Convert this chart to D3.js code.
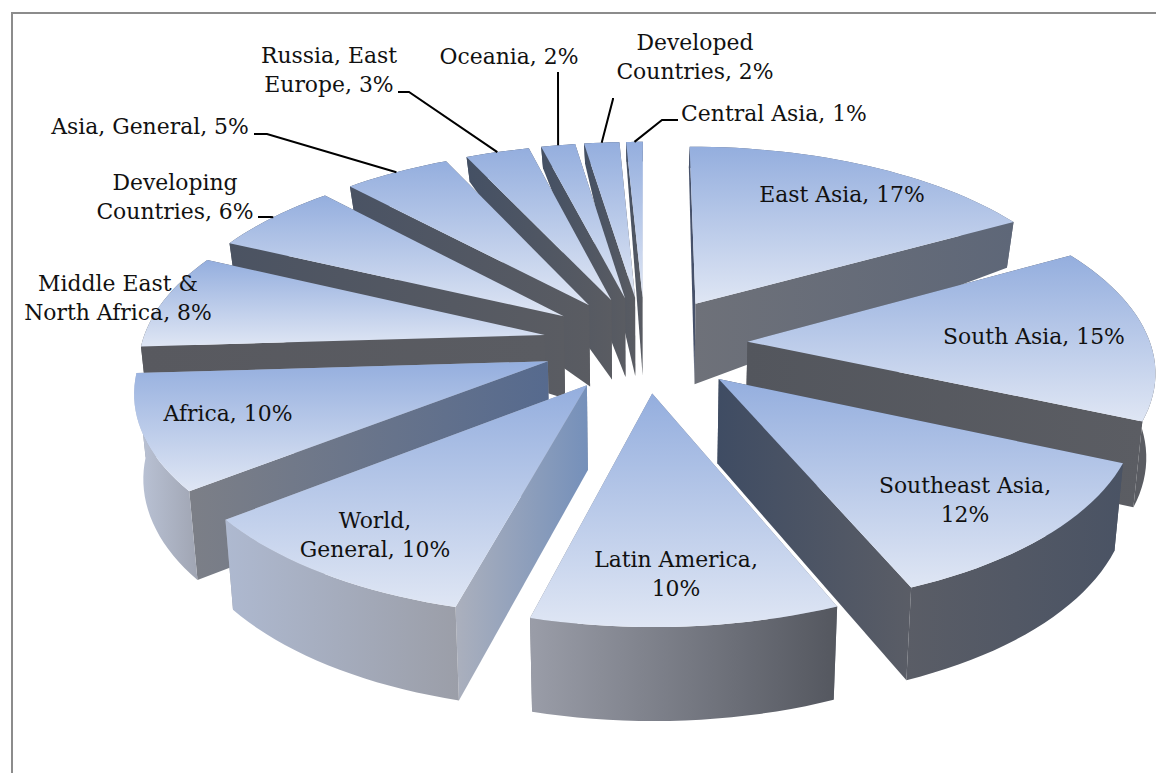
<!DOCTYPE html>
<html>
<head>
<meta charset="utf-8">
<script src="https://cdnjs.cloudflare.com/ajax/libs/d3/7.8.5/d3.min.js"></script>
<style>
  html, body { margin: 0; padding: 0; background: #fff; }
  svg { display: block; }
  text { font-family: "DejaVu Serif", serif; font-size: 21.9px; fill: #111; text-anchor: middle; }
</style>
</head>
<body>
<svg id="chart" width="1156" height="773"></svg>
<script>
const categories = ["East Asia", "South Asia", "Southeast Asia", "Latin America", "World, General", "Africa",
  "Middle East & North Africa", "Developing Countries", "Asia, General", "Russia, East Europe", "Oceania",
  "Developed Countries", "Central Asia"];
// the printed labels are rounded
const shares = [17, 14.86, 12.22, 10.5, 10.35, 9.72, 8.06, 6.1, 5, 3, 1.6, 1.65, 0.78];

// label text, broken the way the original breaks it
const labelLines = [
  ["East Asia, 17%"], ["South Asia, 15%"], ["Southeast Asia,", "12%"], ["Latin America,", "10%"],
  ["World,", "General, 10%"], ["Africa, 10%"], ["Middle East &", "North Africa, 8%"],
  ["Developing", "Countries, 6%"], ["Asia, General, 5%"], ["Russia, East", "Europe, 3%"],
  ["Oceania, 2%"], ["Developed", "Countries, 2%"], ["Central Asia, 1%"]
];

const width = 1156, height = 773;
const svg = d3.select("#chart");
const defs = svg.append("defs");

// perspective of the pie plane, fitted by eye
const cx = 645, cy = 344, scaleX = 403, scaleY = 188, persp = 0.133, explode = 0.255;
const shrinkBottom = 0.982;
const depthScale = d3.scaleLinear()
  .domain([-1.25, -0.4, 0.2, 0.7, 1.25])
  .range([94, 86, 82, 46, 20]);

const project = (x, y) => {
  const w = 1 + persp * y;
  return [cx + scaleX * x / w, cy - scaleY * y / w];
};
const projectBottom = (x, y) => {
  const p = project(x, y);
  return [cx + (p[0] - cx) * shrinkBottom, p[1] + depthScale(y)];
};

const arcs = d3.pie().sort(null).value((d) => d)(shares);

const slices = arcs.map((a, i) => {
  const mid = (a.startAngle + a.endAngle) / 2;
  const ox = explode * Math.sin(mid), oy = explode * Math.cos(mid);
  const rimAt = (t) => [ox + Math.sin(t), oy + Math.cos(t)];
  const n = Math.max(4, Math.ceil((a.endAngle - a.startAngle) * 30));
  const rim = d3.range(n + 1).map((k) => rimAt(a.startAngle + (a.endAngle - a.startAngle) * k / n));
  return { i, mid, apex: [ox, oy], rim, rimMid: rimAt(mid) };
});

const pathOf = d3.line().curve(d3.curveLinear);

// colours, [left, right] for each wall of a slice
const startWall = [
  ["#46516a", "#46516a"], ["#52555c", "#52555c"], ["#4a5264", "#4a5264"], ["#7d818b", "#7d818b"],
  ["#abb0bd", "#7590ba"], ["#7c7f87", "#566a8e"], ["#58595f", "#5a5c62"], ["#4b5362", "#5a5c62"],
  ["#4a5364", "#5a5c62"], ["#445064", "#5a5c62"], ["#445064", "#5a5c62"], ["#445064", "#5a5c62"],
  ["#445064", "#5a5c62"]
];
const endWall = [
  ["#6e7179", "#5e6778"], ["#53565d", "#5b5d63"], ["#3f4c63", "#5a5d66"], ["#7d818b", "#7d818b"],
  ["#9b9ea8", "#9b9ea8"], ["#9b9ea8", "#9b9ea8"], ["#58595f", "#58595f"], ["#58595f", "#58595f"],
  ["#58595f", "#58595f"], ["#58595f", "#58595f"], ["#58595f", "#58595f"], ["#58595f", "#58595f"],
  ["#58595f", "#58595f"]
];
const rimWall = [
  ["#5e6778", "#5e6778"], ["#5a5c62", "#5a5c62"], ["#5a5d66", "#4a5364"], ["#9a9da8", "#54575f"],
  ["#aeb9d0", "#9b9ea8"], ["#bcc5d8", "#a0a5b3"], ["#5a5c62", "#5a5c62"], ["#4b5362", "#4b5362"],
  ["#4a5364", "#4a5364"], ["#445064", "#445064"], ["#445064", "#445064"], ["#445064", "#445064"],
  ["#445064", "#445064"]
];

const addGradient = (id, stops, vertical) => {
  const g = defs.append("linearGradient").attr("id", id)
    .attr("x1", 0).attr("y1", 0).attr("x2", vertical ? 0 : 1).attr("y2", vertical ? 1 : 0);
  stops.forEach((c, k) => g.append("stop").attr("offset", k / (stops.length - 1)).attr("stop-color", c));
  return `url(#${id})`;
};
const topFill = addGradient("top-face", ["#94aede", "#dfe6f4"], true);

// frame
svg.append("path")
  .attr("d", `M12,${height}V13H${width}`)
  .attr("fill", "none").attr("stroke", "#8c8c8c").attr("stroke-width", 2);

// back slices first
const order = slices.slice().sort((a, b) => d3.descending(a.apex[1], b.apex[1]));

order.forEach((s) => {
  const g = svg.append("g").attr("class", "slice");
  const first = s.rim[0], last = s.rim[s.rim.length - 1];
  const wallPts = (a, b) => [project(...a), project(...b), projectBottom(...b), projectBottom(...a)];

  const faces = [
    { y: (s.apex[1] + first[1]) / 2, pts: wallPts(s.apex, first), cols: startWall[s.i], name: "s" },
    { y: (s.apex[1] + last[1]) / 2, pts: wallPts(s.apex, last), cols: endWall[s.i], name: "e" },
    { y: s.rimMid[1], pts: s.rim.map((p) => project(...p)).concat(s.rim.slice().reverse().map((p) => projectBottom(...p))),
      cols: rimWall[s.i], name: "r" }
  ].sort((a, b) => d3.descending(a.y, b.y));

  faces.forEach((f) => {
    g.append("path")
      .attr("d", pathOf(f.pts) + "Z")
      .attr("fill", addGradient(`wall-${s.i}-${f.name}`, f.cols, false));
  });

  const top = [project(...s.apex)].concat(s.rim.map((p) => project(...p)));
  g.append("path").attr("d", pathOf(top) + "Z").attr("fill", topFill);
});

// leader lines for the outside labels: label end, elbow, then the rim of the slice
const leaderIndex = [7, 8, 9, 10, 11, 12];
const leaderStart = [
  [[258, 217], [271, 217]],
  [[254, 134], [267, 134]],
  [[398, 92], [409, 92]],
  [[558, 72], [558, 73]],
  [[613, 98], [613, 99]],
  [[678, 120], [662, 120]]
];
leaderIndex.forEach((idx, k) => {
  const s = slices[idx];
  svg.append("path")
    .attr("d", pathOf(leaderStart[k].concat([project(...s.rimMid)])))
    .attr("fill", "none").attr("stroke", "#000").attr("stroke-width", 2);
});

// labels
const labelX = [842, 1034, 965, 676, 375, 228, 118, 175, 150, 329, 509, 695, 774];
const labelY = [202, 344, 493, 567, 528, 421, 291, 190, 134, 63, 64, 50, 121];
const lineGap = 28.5;

labelLines.forEach((lines, i) => {
  const t = svg.append("text").attr("x", labelX[i]).attr("y", labelY[i]);
  lines.forEach((line, k) => {
    t.append("tspan").attr("x", labelX[i]).attr("dy", k ? lineGap : 0).text(line);
  });
});
</script>
</body>
</html>
